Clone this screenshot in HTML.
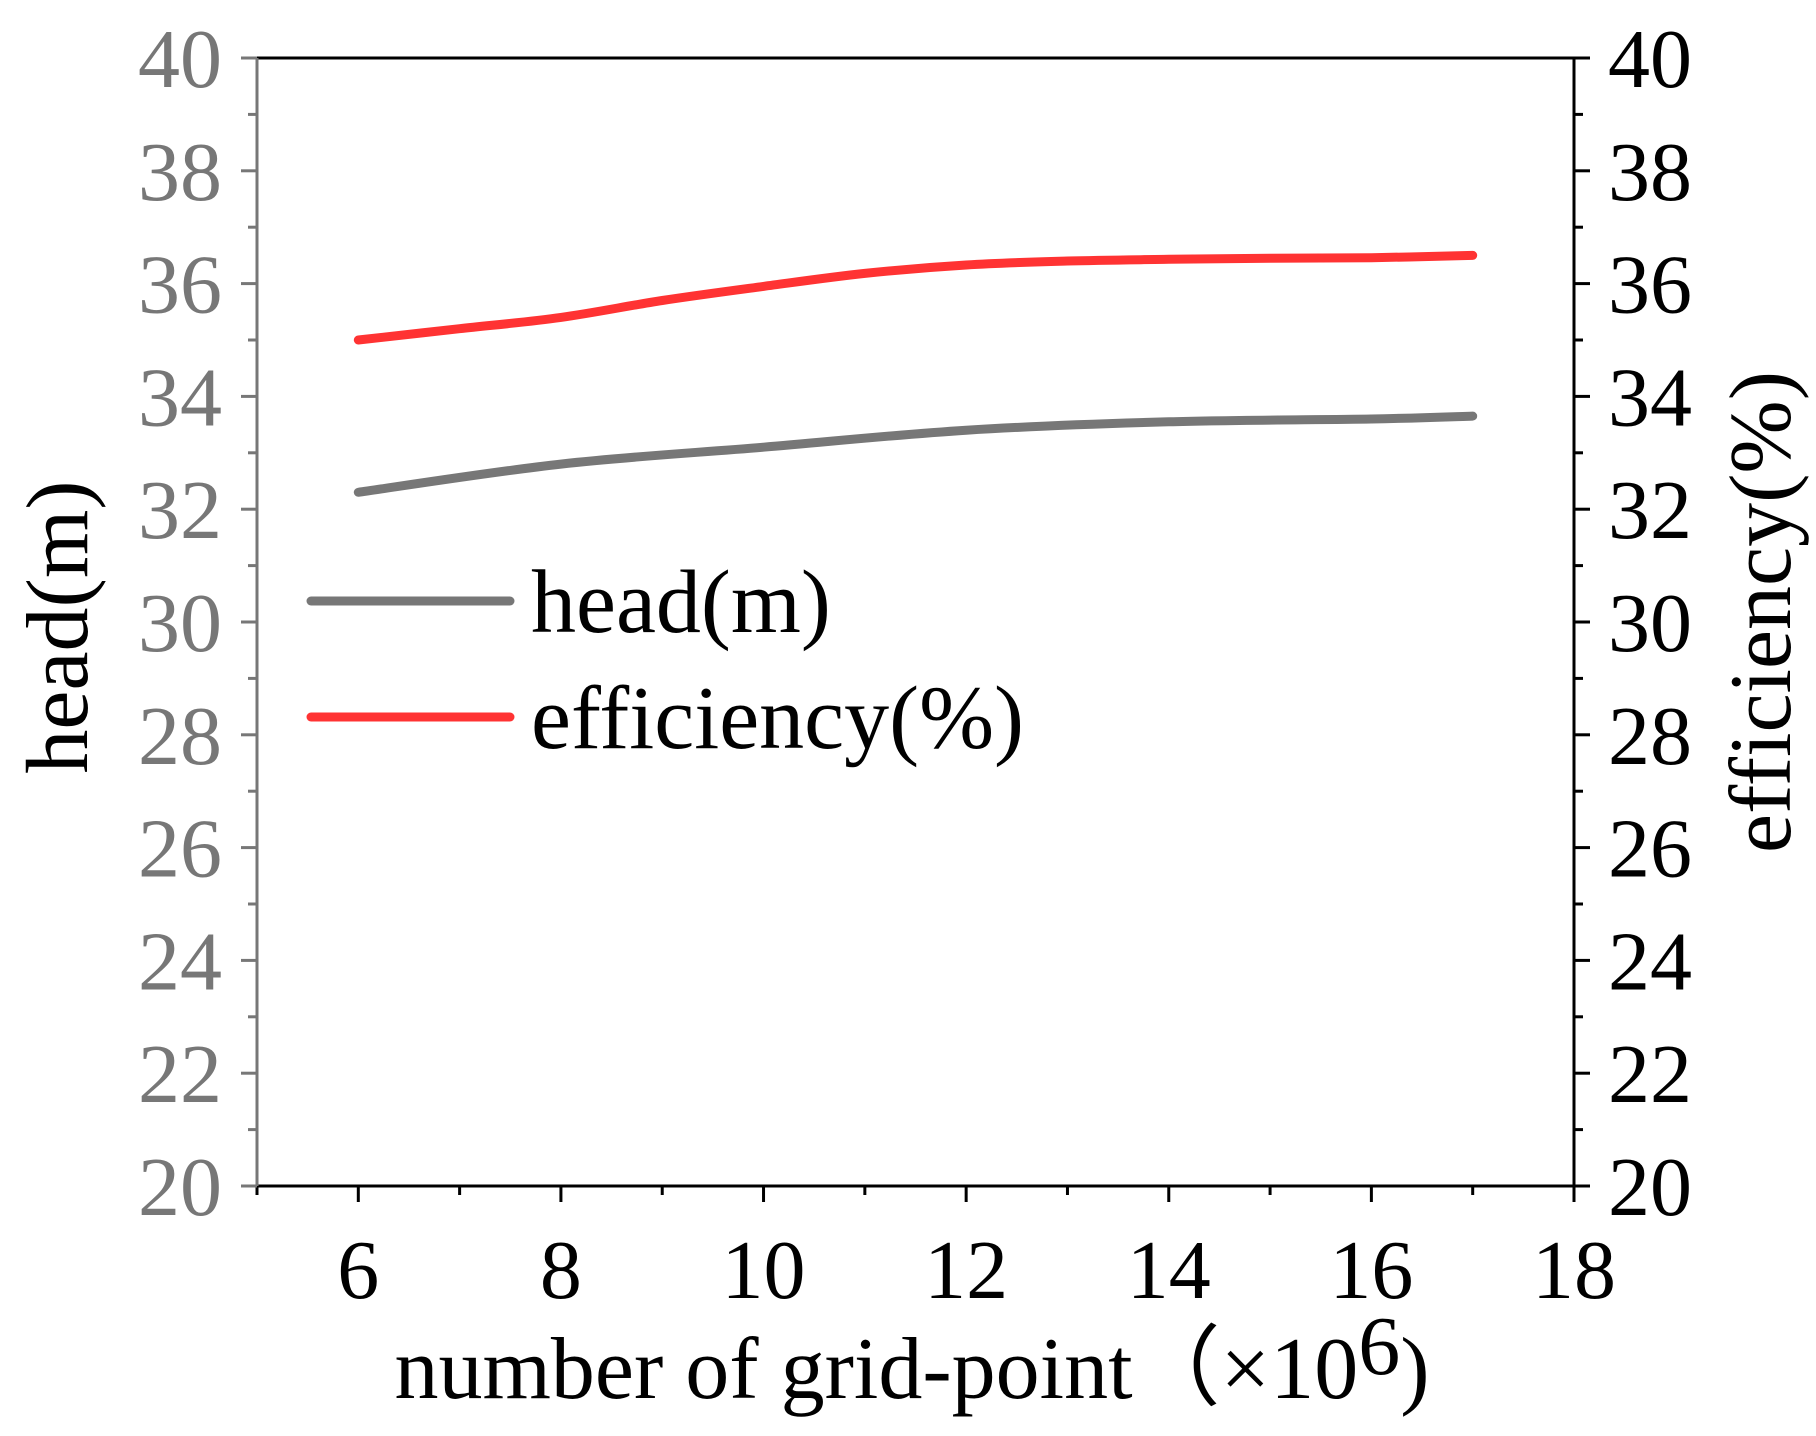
<!DOCTYPE html>
<html><head><meta charset="utf-8"><style>
html,body{margin:0;padding:0;background:#fff;}
svg{display:block;font-family:"Liberation Serif",serif;}
</style></head><body>
<svg id="chart" width="1816" height="1436" viewBox="0 0 1816 1436" xmlns="http://www.w3.org/2000/svg"></svg>
<script>
const xHead=[6,8,10,12,14,16,17];
const headVals=[32.3,32.8,33.1,33.4,33.55,33.6,33.65];
const xEff=[6,7,8,9,10,11,12,13,14,15,16,17];
const effVals=[35.0,35.2,35.4,35.7,35.95,36.18,36.33,36.4,36.43,36.45,36.46,36.5];
const xTicks=[6,8,10,12,14,16,18];
const yTicks=[20,22,24,26,28,30,32,34,36,38,40];

const PL=257,PR=1574,PT=58,PB=1186,x0=5,x1=18,y0=20,y1=40;
const sx=v=>PL+(v-x0)/(x1-x0)*(PR-PL);
const sy=v=>PB-(v-y0)/(y1-y0)*(PB-PT);
const svg=document.getElementById('chart');
const NS='http://www.w3.org/2000/svg';
function el(tag,attrs,parent){const e=document.createElementNS(NS,tag);for(const k in attrs)e.setAttribute(k,attrs[k]);(parent||svg).appendChild(e);return e;}

const topBorder=el('line',{x1:PL,y1:PT,x2:PR,y2:PT,stroke:'#000','stroke-width':3});


const botAxis=el('line',{x1:PL,y1:PB,x2:PR,y2:PB,stroke:'#000','stroke-width':3});


const leftAxis=el('line',{x1:PL,y1:PT,x2:PL,y2:PB,stroke:'#777','stroke-width':3});


const rightAxis=el('line',{x1:PR,y1:PT,x2:PR,y2:PB,stroke:'#000','stroke-width':3});



for(let v=5;v<=18;v++){
  const major=v%2===0;
  const t=el('line',{x1:sx(v),y1:PB,x2:sx(v),y2:PB+(major?16:9),stroke:'#000','stroke-width':3});
  
  
}
xTicks.forEach(v=>{
  const t=el('text',{x:sx(v),y:1298,'font-size':84,'text-anchor':'middle',fill:'#000'});
  t.textContent=v;
  
  
});
for(let v=20;v<=40;v++){
  const major=v%2===0;
  const a=el('line',{x1:PL,y1:sy(v),x2:PL-(major?16:9),y2:sy(v),stroke:'#777','stroke-width':3});
  
  
  const b=el('line',{x1:PR,y1:sy(v),x2:PR+(major?16:9),y2:sy(v),stroke:'#000','stroke-width':3});
  
  
}
yTicks.forEach(v=>{
  const a=el('text',{x:222,y:sy(v)+29,'font-size':84,'text-anchor':'end',fill:'#777'});
  a.textContent=v;
  
  
  const b=el('text',{x:1608,y:sy(v)+29,'font-size':84,'text-anchor':'start',fill:'#000'});
  b.textContent=v;
  
  
});

function pathD(xs,ys){
  const p=xs.map((x,i)=>[sx(x),sy(ys[i])]);
  let d='M'+p[0][0].toFixed(1)+','+p[0][1].toFixed(1);
  for(let i=0;i<p.length-1;i++){
    const a=p[i-1]||p[i],b=p[i],c=p[i+1],e=p[i+2]||c;
    const c1=[b[0]+(c[0]-a[0])/6,b[1]+(c[1]-a[1])/6];
    const c2=[c[0]-(e[0]-b[0])/6,c[1]-(e[1]-b[1])/6];
    d+=' C'+c1.join(',')+' '+c2.join(',')+' '+c[0].toFixed(1)+','+c[1].toFixed(1);
  }
  return d;
}
const hp=el('path',{d:pathD(xHead,headVals),fill:'none',stroke:'#777','stroke-width':9,'stroke-linecap':'round','stroke-linejoin':'round'});


const ep=el('path',{d:pathD(xEff,effVals),fill:'none',stroke:'#ff3333','stroke-width':9,'stroke-linecap':'round','stroke-linejoin':'round'});



const lg=el('g',{});


const l1=el('line',{x1:311,y1:601,x2:510,y2:601,stroke:'#777','stroke-width':9,'stroke-linecap':'round'},lg);


const t1=el('text',{x:531,y:632,'font-size':90,fill:'#000'},lg);
t1.textContent='head(m)';


const l2=el('line',{x1:311,y1:717,x2:510,y2:717,stroke:'#ff3333','stroke-width':9,'stroke-linecap':'round'},lg);


const t2=el('text',{x:531,y:748,'font-size':90,fill:'#000'},lg);
t2.textContent='efficiency(%)';



const yl=el('text',{x:0,y:0,'font-size':88,'text-anchor':'middle',fill:'#000',transform:'translate(87,627) rotate(-90)'});
yl.textContent='head(m)';


const yr=el('text',{x:0,y:0,'font-size':88,'text-anchor':'middle',fill:'#000',transform:'translate(1790,612) rotate(-90)'});
yr.textContent='efficiency(%)';


const xt=el('text',{x:912,y:1398,'font-size':88,'text-anchor':'middle',fill:'#000'});
xt.innerHTML='number of grid-point（×10<tspan dy="-24" font-size="84">6</tspan><tspan dy="24">)</tspan>';


</script>
</body></html>
